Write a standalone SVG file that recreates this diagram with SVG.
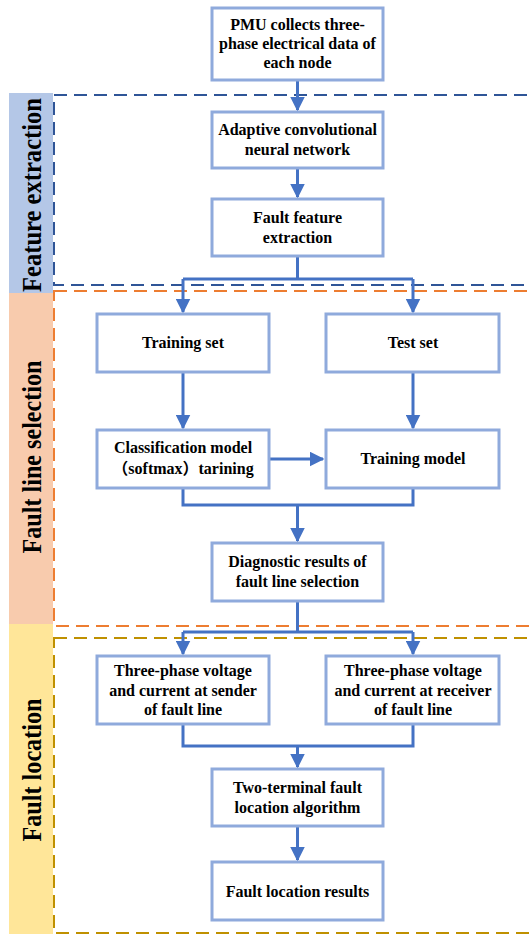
<svg xmlns="http://www.w3.org/2000/svg" width="530" height="934" viewBox="0 0 530 934">
<style>
.box{fill:#fff;stroke:#8FAADC;stroke-width:3}
.t{font-family:"Liberation Serif","Times New Roman",serif;font-weight:bold;font-size:16px;fill:#000;text-anchor:middle}
.band{font-family:"Liberation Serif","Times New Roman",serif;font-weight:bold;font-size:27px;fill:#000;text-anchor:middle}
.c{fill:none;stroke:#4472C4;stroke-width:3}
.dash{fill:none;stroke-width:2;stroke-dasharray:13 7}
</style>
<defs>
<marker id="ah" viewBox="0 0 10 10" refX="9" refY="5" markerWidth="5" markerHeight="5" orient="auto" markerUnits="strokeWidth">
<path d="M0,0 L10,5 L0,10 z" fill="#4472C4"/>
</marker>
</defs>
<rect width="530" height="934" fill="#fff"/>
<g id="bands">
<rect x="9" y="93" width="44" height="200" fill="#B4C7E7"/>
<rect x="9" y="293" width="44" height="331" fill="#F8CBAD"/>
<rect x="9" y="624" width="44" height="310" fill="#FFE699"/>
<text class="band" transform="translate(41,195) rotate(-90)" textLength="194" lengthAdjust="spacingAndGlyphs">Feature extraction</text>
<text class="band" transform="translate(41,457) rotate(-90)" textLength="193" lengthAdjust="spacingAndGlyphs">Fault line selection</text>
<text class="band" transform="translate(41,770) rotate(-90)" textLength="143" lengthAdjust="spacingAndGlyphs">Fault location</text>
</g>
<g id="frames">
<rect class="dash" x="54" y="95" width="490" height="190" stroke="#2F5597"/>
<rect class="dash" x="54" y="291" width="490" height="335" stroke="#ED7D31"/>
<rect class="dash" x="54" y="638" width="490" height="295" stroke="#BF9000"/>
</g>
<g id="connectors">
<path class="c" d="M297.5,81 V110" marker-end="url(#ah)"/>
<path class="c" d="M297.5,168 V197" marker-end="url(#ah)"/>
<path class="c" d="M297.5,257 V279 M183,279 H413"/>
<path class="c" d="M183,279 V312" marker-end="url(#ah)"/>
<path class="c" d="M413,279 V312" marker-end="url(#ah)"/>
<path class="c" d="M183,372 V428" marker-end="url(#ah)"/>
<path class="c" d="M413,372 V428" marker-end="url(#ah)"/>
<path class="c" d="M269,459 H323" marker-end="url(#ah)"/>
<path class="c" d="M183,488 V505 H413 V488"/>
<path class="c" d="M297.5,505 V541" marker-end="url(#ah)"/>
<path class="c" d="M297.5,601 V632 M183,632 H413"/>
<path class="c" d="M183,632 V654" marker-end="url(#ah)"/>
<path class="c" d="M413,632 V654" marker-end="url(#ah)"/>
<path class="c" d="M183,724 V746 H413 V724"/>
<path class="c" d="M297.5,746 V767" marker-end="url(#ah)"/>
<path class="c" d="M297.5,826 V860" marker-end="url(#ah)"/>
</g>
<g id="pmu">
<rect class="box" x="212" y="8" width="171" height="72"/>
<text class="t" x="297.5" y="30">PMU collects three-</text>
<text class="t" x="297.5" y="49">phase electrical data of</text>
<text class="t" x="297.5" y="68">each node</text>
</g>
<g id="acnn">
<rect class="box" x="212" y="112" width="171" height="56"/>
<text class="t" x="297.5" y="135">Adaptive convolutional</text>
<text class="t" x="297.5" y="155">neural network</text>
</g>
<g id="ffe">
<rect class="box" x="212" y="199" width="171" height="57"/>
<text class="t" x="297.5" y="223">Fault feature</text>
<text class="t" x="297.5" y="243">extraction</text>
</g>
<g id="trainset">
<rect class="box" x="97" y="314" width="172" height="58"/>
<text class="t" x="183" y="348">Training set</text>
</g>
<g id="testset">
<rect class="box" x="326" y="314" width="173" height="58"/>
<text class="t" x="413" y="348">Test set</text>
</g>
<g id="classif">
<rect class="box" x="97" y="430" width="172" height="58"/>
<text class="t" x="183" y="453">Classification model</text>
<text class="t" x="183" y="474" style="font-family:'Liberation Serif','Noto Sans CJK SC',serif">（softmax）tarining</text>
</g>
<g id="trainmodel">
<rect class="box" x="326" y="430" width="173" height="58"/>
<text class="t" x="413" y="464">Training model</text>
</g>
<g id="diag">
<rect class="box" x="212" y="543" width="171" height="58"/>
<text class="t" x="297.5" y="567">Diagnostic results of</text>
<text class="t" x="297.5" y="587">fault line selection</text>
</g>
<g id="sender">
<rect class="box" x="97" y="656" width="172" height="68"/>
<text class="t" x="183" y="676">Three-phase voltage</text>
<text class="t" x="183" y="696">and current at sender</text>
<text class="t" x="183" y="715">of fault line</text>
</g>
<g id="receiver">
<rect class="box" x="326" y="656" width="173" height="68"/>
<text class="t" x="413" y="676">Three-phase voltage</text>
<text class="t" x="413" y="696">and current at receiver</text>
<text class="t" x="413" y="715">of fault line</text>
</g>
<g id="twoterm">
<rect class="box" x="212" y="769" width="171" height="57"/>
<text class="t" x="297.5" y="793">Two-terminal fault</text>
<text class="t" x="297.5" y="813">location algorithm</text>
</g>
<g id="results">
<rect class="box" x="212" y="862" width="171" height="58"/>
<text class="t" x="297.5" y="897">Fault location results</text>
</g>
</svg>
